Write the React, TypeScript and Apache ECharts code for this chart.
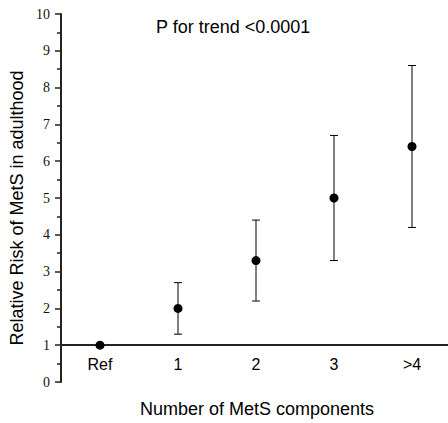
import React, { useEffect, useRef } from "react";
import * as echarts from "echarts";

const categories = ["Ref", "1", "2", "3", ">4"];
const riskValues = [1.0, 2.0, 3.3, 5.0, 6.4];
const lowerCI = [1.0, 1.3, 2.2, 3.3, 4.2];
const upperCI = [1.0, 2.7, 4.4, 6.7, 8.6];
const yTicks = { min: 0, max: 10, interval: 1 };
const annotation = "P for trend <0.0001";
const xTitle = "Number of MetS components";
const yTitle = "Relative Risk of MetS in adulthood";

export default function App() {
  const ref = useRef<HTMLDivElement>(null);
  useEffect(() => {
    if (!ref.current) return;
    const chart = echarts.init(ref.current, null, { renderer: "svg" });
    const sans = "Arial, 'Liberation Sans', sans-serif";
    const serif = "'Times New Roman', 'Liberation Serif', serif";
    const errData = categories
      .map((_, i) => [i, lowerCI[i], upperCI[i]])
      .filter((d) => d[2] - d[1] > 0);
    chart.setOption({
      animation: false,
      backgroundColor: "#fff",
      grid: { left: 61, width: 390, top: 14, bottom: 41, containLabel: false, outerBoundsMode: "none" },
      xAxis: {
        type: "category",
        data: categories,
        boundaryGap: true,
        offset: -36.8,
        axisLine: { lineStyle: { color: "#222", width: 2 } },
        axisTick: { alignWithLabel: true, length: 6, lineStyle: { color: "#222", width: 1.5 } },
        axisLabel: { color: "#000", fontSize: 16, fontFamily: sans, margin: 11 },
        splitLine: { show: false },
      },
      yAxis: {
        type: "value",
        min: yTicks.min,
        max: yTicks.max,
        interval: yTicks.interval,
        axisLine: { show: true, lineStyle: { color: "#222", width: 2 } },
        axisTick: { show: true, length: 6, lineStyle: { color: "#222", width: 1.5 } },
        minorTick: { show: true, splitNumber: 2, length: 4, lineStyle: { color: "#222", width: 1.5 } },
        axisLabel: { color: "#111", fontSize: 14, fontFamily: serif, margin: 11 },
        splitLine: { show: false },
      },
      graphic: [
        {
          type: "text",
          left: 156,
          top: 18,
          style: { text: annotation, fontSize: 18, fontFamily: sans, fill: "#000" },
        },
        {
          type: "text",
          x: 257,
          y: 409,
          style: { text: xTitle, fontSize: 18, fontFamily: sans, fill: "#000", align: "center", verticalAlign: "middle" },
        },
        {
          type: "text",
          x: 17,
          y: 208,
          rotation: Math.PI / 2,
          style: { text: yTitle, fontSize: 18, fontFamily: sans, fill: "#000", align: "center", verticalAlign: "middle" },
        },
      ],
      series: [
        {
          type: "custom",
          data: errData,
          z: 2,
          renderItem: (params: any, api: any) => {
            const x = api.value(0);
            const lo = api.coord([x, api.value(1)]);
            const hi = api.coord([x, api.value(2)]);
            const hw = 4;
            const style = { stroke: "#000", lineWidth: 1, fill: "none" };
            return {
              type: "group",
              children: [
                { type: "line", shape: { x1: lo[0], y1: lo[1], x2: hi[0], y2: hi[1] }, style },
                { type: "line", shape: { x1: hi[0] - hw, y1: hi[1], x2: hi[0] + hw, y2: hi[1] }, style },
                { type: "line", shape: { x1: lo[0] - hw, y1: lo[1], x2: lo[0] + hw, y2: lo[1] }, style },
              ],
            };
          },
        },
        {
          type: "scatter",
          data: riskValues.map((v, i) => [i, v]),
          symbol: "circle",
          symbolSize: 9,
          z: 3,
          itemStyle: { color: "#000", opacity: 1 },
        },
      ],
    });
    return () => chart.dispose();
  }, []);
  return <div ref={ref} style={{ position: "fixed", left: 0, top: 0, width: 448, height: 423 }} />;
}
